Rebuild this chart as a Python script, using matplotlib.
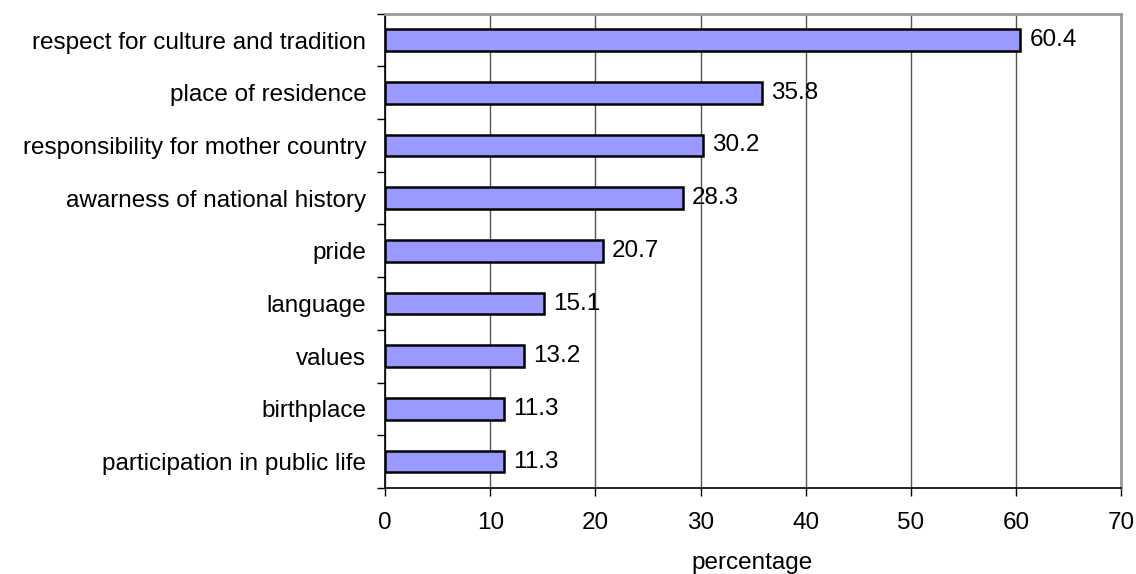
import matplotlib
matplotlib.use("Agg")
import matplotlib.pyplot as plt

categories = [
    "respect for culture and tradition",
    "place of residence",
    "responsibility for mother country",
    "awarness of national history",
    "pride",
    "language",
    "values",
    "birthplace",
    "participation in public life",
]
values = [60.4, 35.8, 30.2, 28.3, 20.7, 15.1, 13.2, 11.3, 11.3]
x_ticks = [0, 10, 20, 30, 40, 50, 60, 70]

plt.rcParams["font.family"] = ["Liberation Sans", "DejaVu Sans"]
plt.rcParams["font.size"] = 17.5

fig = plt.figure(figsize=(11.36, 5.74), dpi=100)
ax = fig.add_axes([0.339, 0.150, 0.648, 0.826])

n = len(categories)
ypos = [n - 1 - i for i in range(n)]
ax.barh(ypos, values, height=0.41, color="#9999FF", edgecolor="black",
        linewidth=1.8, zorder=3)
for y, v in zip(ypos, values):
    ax.annotate(f"{v:.1f}", (v, y), xytext=(6.5, 0), textcoords="offset points",
                va="center", ha="left", zorder=4)

ax.set_xlim(0, 70)
ax.set_ylim(-0.5, n - 0.5)
ax.set_xticks(x_ticks)
ax.set_xticklabels([str(t) for t in x_ticks])
ax.set_yticks(ypos)
ax.set_yticklabels(categories)
ax.set_yticks([i - 0.5 for i in range(n + 1)], minor=True)
ax.tick_params(axis="y", which="major", length=0, pad=13.5)
ax.tick_params(axis="y", which="minor", length=6, width=1, direction="out")
ax.tick_params(axis="x", which="major", length=6, width=1, direction="out", pad=11.5)
ax.xaxis.grid(True, color="#555555", linewidth=1, zorder=0)
ax.set_axisbelow(True)

for side in ("left", "bottom"):
    ax.spines[side].set_color("black")
    ax.spines[side].set_linewidth(1.2)
for side in ("top", "right"):
    ax.spines[side].set_color("#999999")
    ax.spines[side].set_linewidth(2)

# axis title placed just above the bottom edge of the figure
fig.text(0.662, 0.0095, "percentage", ha="center", va="baseline")

fig.savefig("out.png", dpi=100)
